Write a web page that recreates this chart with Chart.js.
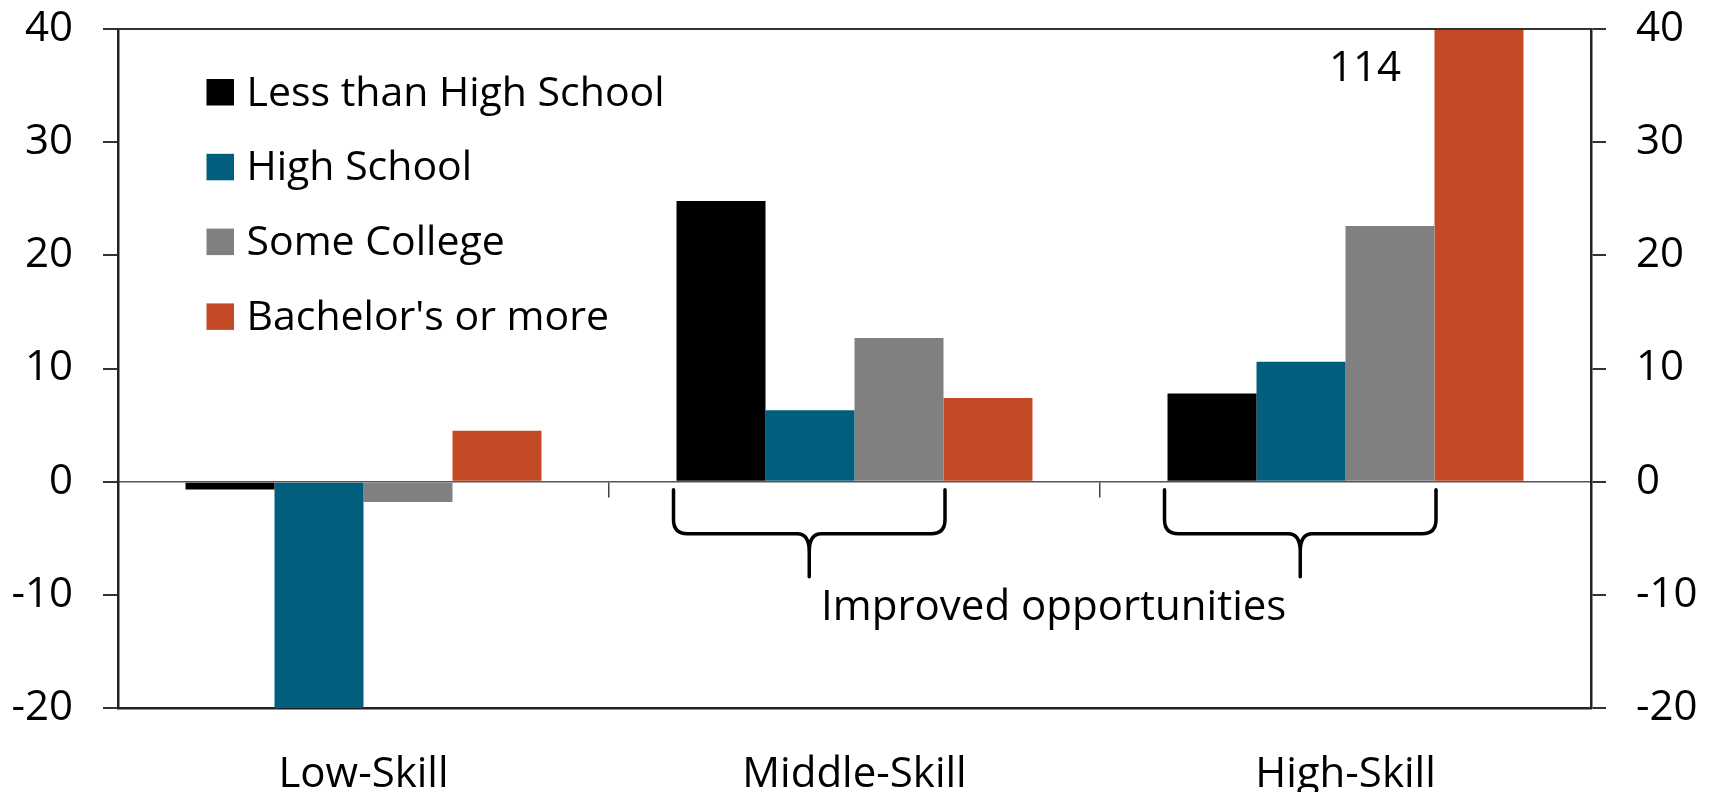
<!DOCTYPE html>
<html>
<head>
<meta charset="utf-8">
<script src="https://cdn.jsdelivr.net/npm/chart.js@4.4.1/dist/chart.umd.min.js"></script>
<style>
  html, body { margin: 0; padding: 0; background: #ffffff; overflow: hidden; }
  #wrap { width: 1713px; height: 792px; position: relative; }
</style>
</head>
<body>
<div id="wrap"><canvas id="c" width="1713" height="792"></canvas></div>
<script>
// ---- data ----
const categories = ['Low-Skill', 'Middle-Skill', 'High-Skill'];
const seriesNames = ['Less than High School', 'High School', 'Some College', "Bachelor's or more"];
const lessThanHighSchool = [-0.7, 24.8, 7.8];
const highSchool = [-20, 6.3, 10.6];
const someCollege = [-1.8, 12.7, 22.6];
const bachelorsOrMore = [4.5, 7.4, 114];
const yMin = -20, yMax = 40, yStep = 10;
const braceCategoryIndexes = [1, 2];
const braceText = 'Improved opportunities';

const colors = ['#000000', '#015E7C', '#808080', '#C34A25'];
const FONT = '"Open Sans", Lato, "DejaVu Sans", sans-serif';
const FSIZE = 42;
const LEGEND_FSIZE = 41;

const extrasPlugin = {
  id: 'extras',
  afterDraw(chart) {
    const ctx = chart.ctx;
    const area = chart.chartArea;
    // top box line
    ctx.save();
    ctx.strokeStyle = '#333333';
    ctx.lineWidth = 2;
    ctx.beginPath();
    ctx.moveTo(area.left, area.top);
    ctx.lineTo(area.right, area.top);
    ctx.stroke();
    ctx.restore();

    // legend (custom, inside plot)
    ctx.save();
    ctx.font = LEGEND_FSIZE + 'px ' + FONT;
    ctx.textBaseline = 'alphabetic';
    ctx.textAlign = 'left';
    const lx = area.left + 88.5, ly0 = area.top + 76.5, lstep = 74.8, sq = 26.5;
    chart.data.datasets.forEach((ds, i) => {
      const by = ly0 + i * lstep;
      ctx.fillStyle = ds.backgroundColor;
      ctx.fillRect(lx, by - sq, sq + 1, sq);
      ctx.fillStyle = '#000000';
      ctx.fillText(ds.label, lx + 40, by);
    });
    ctx.restore();

    // braces
    const yZero = chart.scales.y.getPixelForValue(0);
    const m0 = chart.getDatasetMeta(0), m2 = chart.getDatasetMeta(2);
    const tips = [];
    ctx.save();
    ctx.strokeStyle = '#000000';
    ctx.lineWidth = 3.5;
    ctx.lineCap = 'round';
    ctx.lineJoin = 'round';
    braceCategoryIndexes.forEach(ci => {
      const b0 = m0.data[ci], b2 = m2.data[ci];
      const x0 = b0.x - b0.width / 2 - 3;
      const x1 = b2.x + b2.width / 2 + 1.5;
      const cx = (x0 + x1) / 2;
      const top = yZero + 8, h = yZero + 52, tip = yZero + 95;
      const r = 14, r2 = 12;
      ctx.beginPath();
      ctx.moveTo(x0, top);
      ctx.lineTo(x0, h - r);
      ctx.quadraticCurveTo(x0, h, x0 + r, h);
      ctx.lineTo(cx - r2, h);
      ctx.quadraticCurveTo(cx, h, cx, h + 18);
      ctx.lineTo(cx, tip);
      ctx.moveTo(x1, top);
      ctx.lineTo(x1, h - r);
      ctx.quadraticCurveTo(x1, h, x1 - r, h);
      ctx.lineTo(cx + r2, h);
      ctx.quadraticCurveTo(cx, h, cx, h + 18);
      ctx.stroke();
      tips.push({x: cx, y: tip});
    });
    ctx.restore();

    ctx.save();
    ctx.font = FSIZE + 'px ' + FONT;
    ctx.fillStyle = '#000000';
    ctx.textAlign = 'center';
    ctx.textBaseline = 'alphabetic';
    const tx = (tips[0].x + tips[1].x) / 2 - 1;
    ctx.fillText(braceText, tx, tips[0].y + 43);

    // clipped value label
    const m3 = chart.getDatasetMeta(3);
    const last = m3.data.length - 1;
    const bar = m3.data[last];
    const val = chart.data.datasets[3].data[last];
    if (val > yMax) {
      ctx.fillText(String(val), bar.x - bar.width * 1.28, area.top + 52);
    }
    ctx.restore();
  }
};

const datasets = [lessThanHighSchool, highSchool, someCollege, bachelorsOrMore].map((d, i) => ({
  label: seriesNames[i],
  data: d,
  backgroundColor: colors[i],
  borderWidth: 0,
  categoryPercentage: 0.725,
  barPercentage: 1.0
}));

const tickFont = { family: FONT, size: FSIZE };

function fixY(width) {
  return function (s) { s.width = width; s.paddingTop = 0; s.paddingBottom = 0; };
}

new Chart(document.getElementById('c'), {
  type: 'bar',
  data: { labels: categories, datasets },
  plugins: [extrasPlugin],
  options: {
    responsive: false,
    devicePixelRatio: 1,
    animation: false,
    layout: { padding: { top: 29, left: 0, right: 0, bottom: 0 } },
    plugins: { legend: { display: false }, tooltip: { enabled: false } },
    scales: {
      x: {
        position: 'bottom',
        offset: true,
        grid: { display: false },
        border: { display: true, color: '#222222', width: 2.5 },
        ticks: { font: tickFont, color: '#000000', padding: 34, maxRotation: 0 },
        afterFit(s) { s.height = 84; s.paddingLeft = 0; s.paddingRight = 0; }
      },
      x2: {
        axis: 'x',
        type: 'category',
        position: { y: 0 },
        offset: true,
        ticks: { display: false },
        grid: { display: true, offset: true, drawOnChartArea: false, drawTicks: true, tickLength: 15, color: '#444444', lineWidth: 1.5 },
        border: { display: true, color: '#555555', width: 1.5 }
      },
      y: {
        position: 'left',
        min: yMin, max: yMax,
        ticks: { stepSize: yStep, font: tickFont, color: '#000000', padding: 30, callback: v => String(v) },
        grid: { display: true, drawOnChartArea: false, drawTicks: true, tickLength: 15, color: '#333333', lineWidth: 2 },
        border: { display: true, color: '#222222', width: 2.5 },
        afterFit: fixY(118)
      },
      y2: {
        axis: 'y',
        position: 'right',
        min: yMin, max: yMax,
        ticks: { stepSize: yStep, font: tickFont, color: '#000000', padding: 30, callback: v => String(v) },
        grid: { display: true, drawOnChartArea: false, drawTicks: true, tickLength: 15, color: '#333333', lineWidth: 2 },
        border: { display: true, color: '#222222', width: 2.5 },
        afterFit: fixY(122)
      }
    }
  }
});
</script>
</body>
</html>
